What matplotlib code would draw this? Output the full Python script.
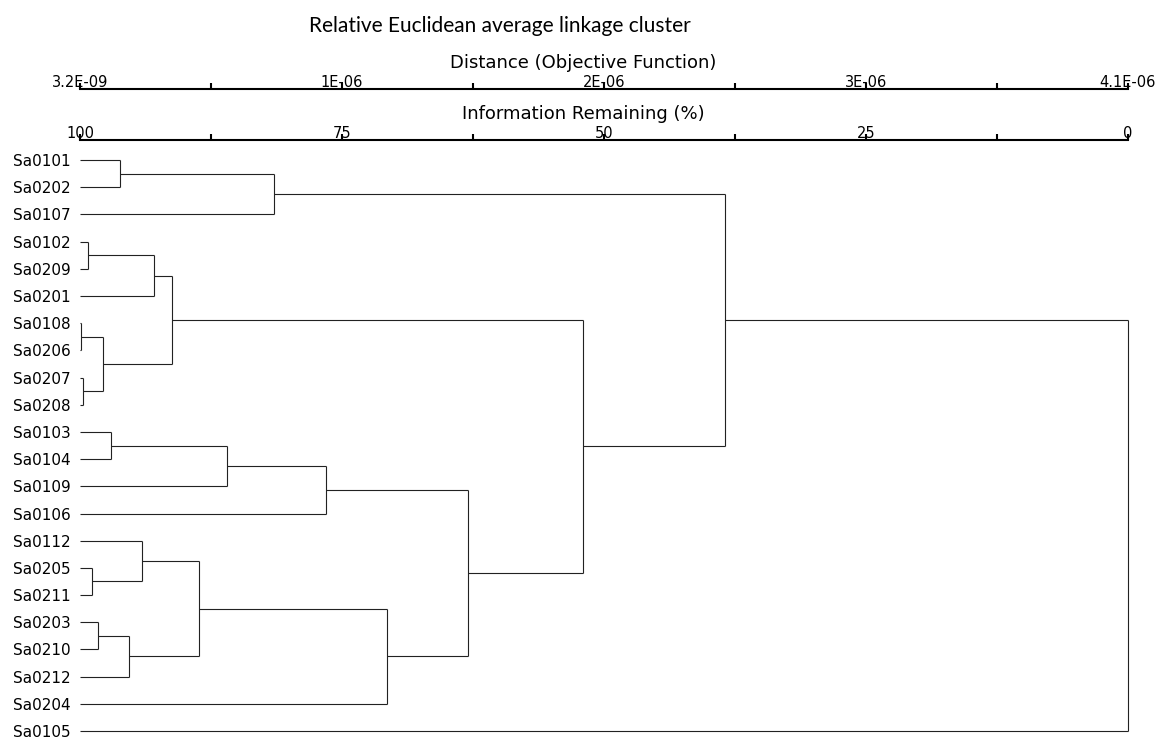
import matplotlib
matplotlib.use("Agg")
import matplotlib.pyplot as plt

# leaf order, top to bottom
leaves = ["Sa0101", "Sa0202", "Sa0107", "Sa0102", "Sa0209", "Sa0201",
          "Sa0108", "Sa0206", "Sa0207", "Sa0208", "Sa0103", "Sa0104",
          "Sa0109", "Sa0106", "Sa0112", "Sa0205", "Sa0211", "Sa0203",
          "Sa0210", "Sa0212", "Sa0204", "Sa0105"]

# merges: node name, its two children, level in information remaining (%)
node_names = ["A", "B", "C", "D", "E", "F", "G", "H", "I", "J", "K",
              "L", "M", "N", "O", "P", "Q", "R", "S", "T", "U"]
child_a = ["Sa0101", "A", "Sa0102", "C", "Sa0108", "Sa0207", "E", "D",
           "Sa0103", "I", "J", "Sa0205", "Sa0112", "Sa0203", "N", "M",
           "P", "K", "H", "B", "T"]
child_b = ["Sa0202", "Sa0107", "Sa0209", "Sa0201", "Sa0206", "Sa0208",
           "F", "G", "Sa0104", "Sa0109", "Sa0106", "Sa0211", "L",
           "Sa0210", "Sa0212", "O", "Sa0204", "Q", "R", "S", "Sa0105"]
info_level = [96.2, 81.5, 99.2, 92.9, 99.9, 99.7, 97.8, 91.2, 97.0, 86.0,
              76.5, 98.9, 94.1, 98.3, 95.3, 88.6, 70.7, 63.0, 52.0, 38.5,
              0.0]

# top rulers
ruler_ticks = [100, 87.5, 75, 62.5, 50, 37.5, 25, 12.5, 0]
dist_labels = ["3.2E-09", "", "1E-06", "", "2E-06", "", "3E-06", "", "4.1E-06"]
info_labels = ["100", "", "75", "", "50", "", "25", "", "0"]

W, H = 1160, 737
fig = plt.figure(figsize=(W / 100, H / 100), dpi=100)


def fx(px):
    return px / W


def fy(py):
    return 1 - py / H


ax = fig.add_axes([fx(80), 0, fx(1048), (H - 150) / H])
ax.set_xlim(100, 0)
ax.set_ylim(len(leaves) - 1 + 0.22, -0.37)
for s in ax.spines.values():
    s.set_visible(False)
ax.set_xticks([])
ax.set_yticks(range(len(leaves)), leaves)
ax.tick_params(axis="y", length=0, pad=7, labelsize=11)

pos = {name: (i, 100.0) for i, name in enumerate(leaves)}
line_kw = dict(color="#222222", lw=0.8, clip_on=False, solid_capstyle="butt")
for name, a, b, lev in zip(node_names, child_a, child_b, info_level):
    ya, xa = pos[a]
    yb, xb = pos[b]
    ax.plot([xa, lev], [ya, ya], **line_kw)
    ax.plot([xb, lev], [yb, yb], **line_kw)
    ax.plot([lev, lev], [ya, yb], **line_kw)
    pos[name] = ((ya + yb) / 2, lev)


def ruler(ypx, labels):
    r = fig.add_axes([fx(80), fy(ypx), fx(1048), 1e-4])
    r.set_xlim(100, 0)
    r.set_yticks([])
    for s in ["left", "right", "bottom"]:
        r.spines[s].set_visible(False)
    r.spines["top"].set_linewidth(1.5)
    r.xaxis.tick_top()
    r.set_xticks(ruler_ticks, labels)
    r.tick_params(axis="x", direction="out", length=4, width=1.5,
                  pad=-5, labelsize=10.5)
    return r


ruler(89, dist_labels)
ruler(140, info_labels)

fig.text(fx(583), fy(68.5), "Distance (Objective Function)", ha="center",
         va="baseline", fontsize=13)
fig.text(fx(583), fy(119), "Information Remaining (%)", ha="center",
         va="baseline", fontsize=13)
fig.text(fx(500), fy(32), "Relative Euclidean average linkage cluster",
         ha="center", va="baseline", fontsize=15, family="Lato")

fig.savefig("out.png", dpi=100)
